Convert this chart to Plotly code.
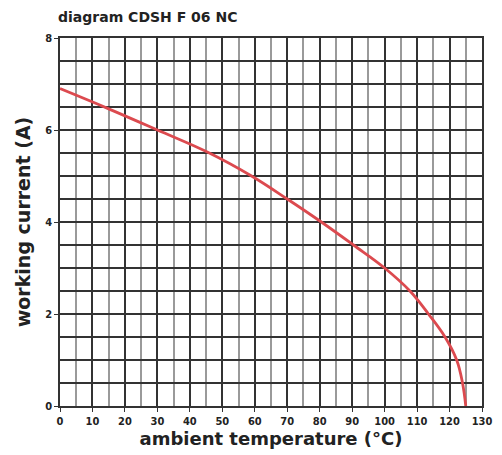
import plotly.graph_objects as go

temperature = [0, 15, 30, 46, 59, 70, 80.5, 90.4, 100, 107.8, 113.5, 118.6, 122.2, 124, 125]
current = [6.9, 6.46, 6.0, 5.5, 5.0, 4.5, 4.0, 3.5, 3.0, 2.5, 2.0, 1.5, 1.0, 0.5, 0.0]
x_ticks = list(range(0, 131, 10))
y_ticks = [0, 2, 4, 6, 8]

title_font = "DejaVu Sans, sans-serif"
tick_font = "DejaVu Sans Condensed, DejaVu Sans, sans-serif"

# page body has an 8px default margin; figure sized to fit the 502x455 window
FIG_W, FIG_H = 494, 447

fig = go.Figure()
fig.add_trace(go.Scatter(
    x=temperature, y=current, mode="lines",
    line=dict(color="#dc4a4f", width=2.8, shape="spline", smoothing=1.1),
    showlegend=False, hoverinfo="skip",
))

fig.update_layout(
    width=FIG_W, height=FIG_H,
    margin=dict(l=52, r=20, t=30, b=49),
    paper_bgcolor="white", plot_bgcolor="white",
    title=dict(text="<b>diagram CDSH F 06 NC</b>", x=50 / FIG_W, xanchor="left",
               y=1 - 9 / FIG_H, yanchor="middle",
               font=dict(family=title_font, size=14, color="#222")),
    xaxis=dict(
        range=[0, 130], tickvals=x_ticks, ticktext=[f"<b>{v}</b>" for v in x_ticks],
        showgrid=True, gridcolor="#333", gridwidth=1.5,
        minor=dict(dtick=5, showgrid=True, gridcolor="#9a9a9a", gridwidth=1.5),
        showline=True, linecolor="#333", linewidth=1.5, mirror=True,
        ticks="outside", ticklen=4, tickcolor="#333",
        zeroline=False, automargin=False,
        tickfont=dict(family=tick_font, size=11, color="#222"),
        title=dict(text="<b>ambient temperature (°C)</b>", standoff=3,
                   font=dict(family=title_font, size=18, color="#222")),
    ),
    yaxis=dict(
        range=[0, 8], tickvals=y_ticks, ticktext=[f"<b>{v}</b>" for v in y_ticks],
        showgrid=True, gridcolor="#333", gridwidth=1.5,
        minor=dict(dtick=0.5, showgrid=True, gridcolor="#333", gridwidth=1.5),
        showline=True, linecolor="#333", linewidth=1.5, mirror=True,
        ticks="outside", ticklen=4, tickcolor="#333",
        zeroline=False, automargin=False,
        tickfont=dict(family=tick_font, size=11, color="#222"),
        title=dict(text="<b>working current (A)</b>", standoff=10,
                   font=dict(family=title_font, size=19, color="#222")),
    ),
)

fig.write_html("out.html")
